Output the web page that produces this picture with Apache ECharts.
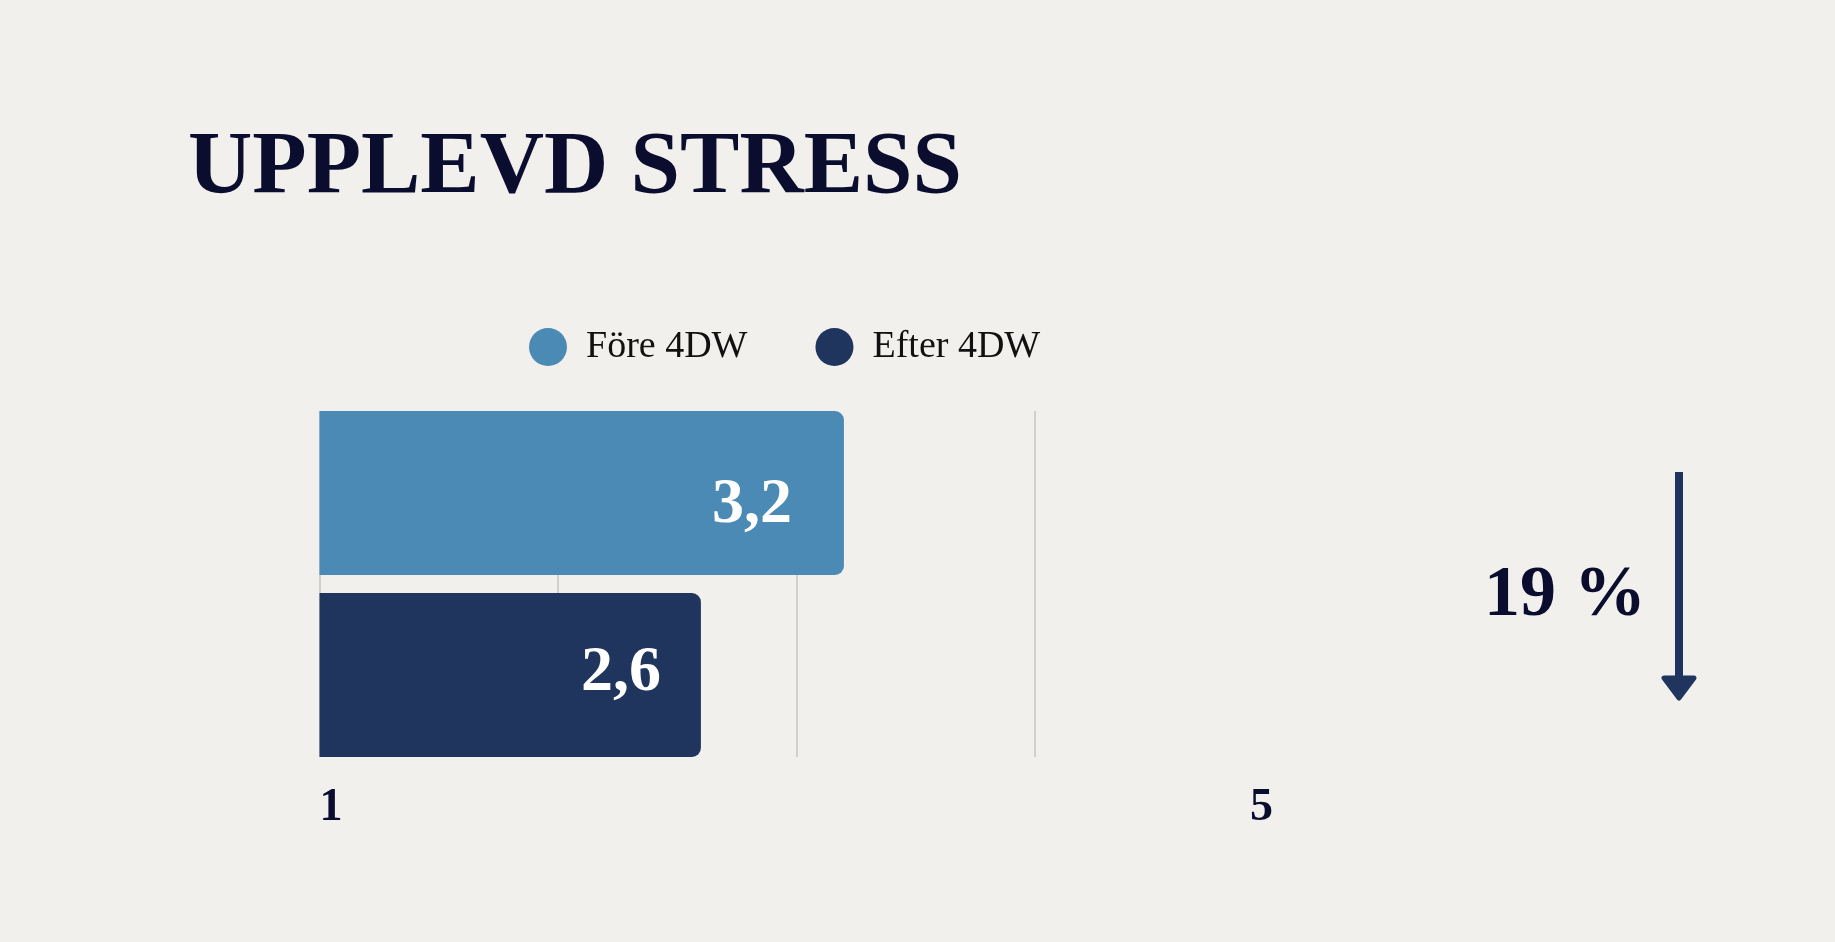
<!DOCTYPE html>
<html>
<head>
<meta charset="utf-8">
<title>Upplevd stress</title>
<script src="https://cdn.jsdelivr.net/npm/echarts@6.0.0/dist/echarts.min.js"></script>
<style>
  html, body { margin: 0; padding: 0; background: #f1f0ed; }
  #chart { width: 1835px; height: 942px; }
</style>
</head>
<body>
<div id="chart"></div>
<script>
// Data
const categories = ['Upplevd stress'];
const seriesNames = ['Före 4DW', 'Efter 4DW'];
const beforeValues = [3.2];
const afterValues = [2.6];
const axisTickLabels = [1, 5];

const colors = ['#4a8ab5', '#1f355d'];
const navy = '#0b0d2e';
const serif = '"Liberation Serif", "DejaVu Serif", serif';

// change from before to after, in percent
const change = Math.round((beforeValues[0] - afterValues[0]) / beforeValues[0] * 100);

function commaDecimal(v) {
    return v.toFixed(1).replace('.', ',');
}

function barLabel(distance, dy) {
    return {
        show: true,
        position: 'insideRight',
        distance: distance,
        offset: [0, dy],
        color: '#ffffff',
        fontFamily: serif,
        fontWeight: 'bold',
        fontSize: 64,
        formatter: p => commaDecimal(p.value)
    };
}

const chart = echarts.init(document.getElementById('chart'));

const option = {
    backgroundColor: '#f1f0ed',
    animation: false,
    title: {
        text: 'UPPLEVD STRESS',
        left: 183,
        top: 120,
        textStyle: {
            color: navy,
            fontFamily: serif,
            fontWeight: 'bold',
            fontSize: 89
        }
    },
    legend: {
        data: seriesNames,
        left: 524,
        top: 323,
        icon: 'circle',
        itemWidth: 38,
        itemHeight: 38,
        itemGap: 68,
        textStyle: {
            color: '#111111',
            fontFamily: serif,
            fontSize: 38,
            padding: [0, 0, 0, 14]
        }
    },
    grid: {
        left: 319.5,
        right: 562,
        top: 411,
        bottom: 185
    },
    xAxis: {
        type: 'value',
        min: 1,
        max: 5,
        interval: 1,
        axisLine: { show: false },
        axisTick: { show: false },
        splitLine: {
            show: true,
            showMaxLine: false,
            lineStyle: { color: '#c4c4c4', width: 1.5 }
        },
        axisLabel: {
            margin: 28,
            color: navy,
            fontFamily: serif,
            fontWeight: 'bold',
            fontSize: 46,
            alignMinLabel: 'left',
            alignMaxLabel: 'right',
            formatter: v => (axisTickLabels.includes(v) ? String(v) : '')
        }
    },
    yAxis: {
        type: 'category',
        data: categories,
        inverse: true,
        axisLine: { show: false },
        axisTick: { show: false },
        axisLabel: { show: false }
    },
    series: [
        {
            name: seriesNames[0],
            type: 'bar',
            data: beforeValues,
            barWidth: 164,
            barGap: '11%',
            itemStyle: { color: colors[0], borderRadius: [0, 9, 9, 0] },
            label: barLabel(52, 12)
        },
        {
            name: seriesNames[1],
            type: 'bar',
            data: afterValues,
            barWidth: 164,
            barGap: '11%',
            itemStyle: { color: colors[1], borderRadius: [0, 9, 9, 0] },
            label: barLabel(40, -2)
        }
    ],
    graphic: [
        {
            type: 'text',
            right: 1835 - 1646,
            top: 560,
            style: {
                text: change + ' %',
                fill: navy,
                font: 'bold 72px ' + serif
            }
        },
        {
            type: 'line',
            shape: { x1: 1679, y1: 472, x2: 1679, y2: 684 },
            style: { stroke: colors[1], lineWidth: 8 }
        },
        {
            type: 'polygon',
            shape: { points: [[1664, 678], [1694, 678], [1679, 698]] },
            style: { fill: colors[1], stroke: colors[1], lineWidth: 5, lineJoin: 'round' }
        }
    ]
};

chart.setOption(option);
window.addEventListener('resize', () => chart.resize());
</script>
</body>
</html>
